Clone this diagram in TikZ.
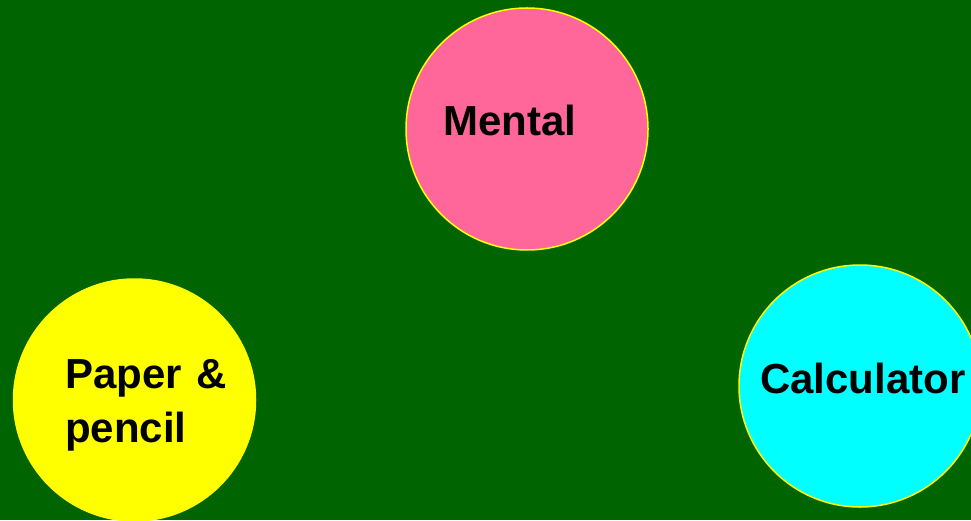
\documentclass[tikz,border=0pt]{standalone}
\usepackage{fontspec}
\setmainfont{Liberation Sans}
\definecolor{bggreen}{RGB}{0,100,0}
\definecolor{mentalpink}{RGB}{255,102,153}
\definecolor{calccyan}{RGB}{0,255,255}
\definecolor{edgeyellow}{RGB}{255,255,0}
\begin{document}
\begin{tikzpicture}[x=1pt,y=1pt,
  bubble/.style={circle,draw=edgeyellow,line width=1.5pt,minimum size=242pt,inner sep=0pt},
  lbl/.style={inner sep=0pt,font=\fontsize{42}{54}\selectfont\bfseries,text=black}]
\fill[bggreen] (0,0) rectangle (971,520);
\useasboundingbox (0,0) rectangle (971,520);
\node[bubble,fill=mentalpink] (mental) at (527,391) {};
\node[bubble,fill=edgeyellow] (paper) at (134.5,120) {};
\node[bubble,fill=calccyan] (calc) at (860,134) {};
\node[lbl,anchor=base west] (tmental) at (443,384) {Mental};
\node[lbl,anchor=base west,align=left] (tpaper) at (65,78) {Paper \hspace{3pt}\&\\pencil};
\node[lbl,anchor=base west] (tcalc) at (760,127) {Calculator};
\end{tikzpicture}
\end{document}
